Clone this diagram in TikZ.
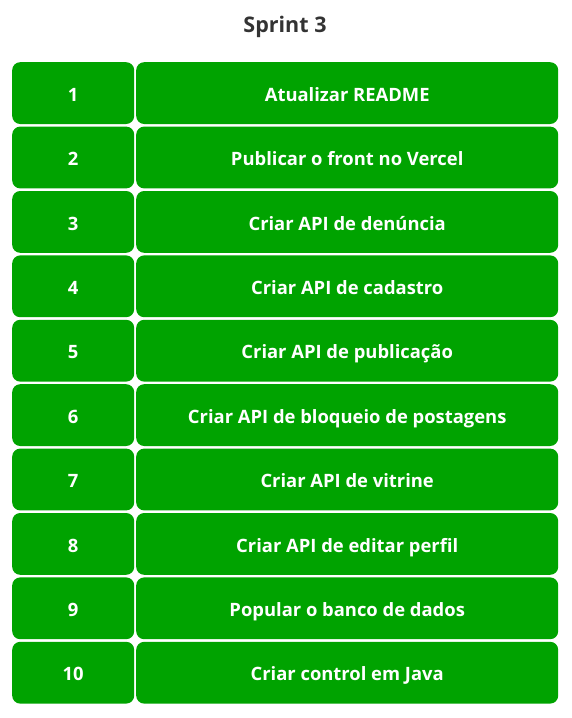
\documentclass[tikz,border=0pt]{standalone}
\usepackage{fontspec}
\setmainfont{Open Sans}
\definecolor{boxgreen}{RGB}{0,163,0}
\definecolor{titlegray}{RGB}{51,51,51}
\begin{document}
\begin{tikzpicture}[x=1pt,y=-1pt,
  cell/.style={fill=boxgreen, draw=none, rounded corners=8pt, text=white, font=\fontsize{18.4}{22}\selectfont\bfseries, inner sep=0pt, text height=16.4pt, text depth=0pt, minimum height=61.8pt, anchor=north west},
  numcell/.style={cell, minimum width=122pt},
  taskcell/.style={cell, minimum width=422pt},
  ttl/.style={text=titlegray, font=\fontsize{21.5}{25}\selectfont\bfseries, inner sep=0pt, anchor=base}]
\useasboundingbox (0,0) rectangle (572,718);
\node[ttl] (title) at (285,32.5) {Sprint 3};
\foreach \i/\t [count=\k from 0] in {1/Atualizar README,2/Publicar o front no Vercel,3/Criar API de denúncia,4/Criar API de cadastro,5/Criar API de publicação,6/Criar API de bloqueio de postagens,7/Criar API de vitrine,8/Criar API de editar perfil,9/Popular o banco de dados,10/Criar control em Java}{
  \node[numcell] (n\i) at (12,62+64.4*\k) {\i};
  \node[taskcell] (t\i) at (136,62+64.4*\k) {\t};
}
\end{tikzpicture}
\end{document}
